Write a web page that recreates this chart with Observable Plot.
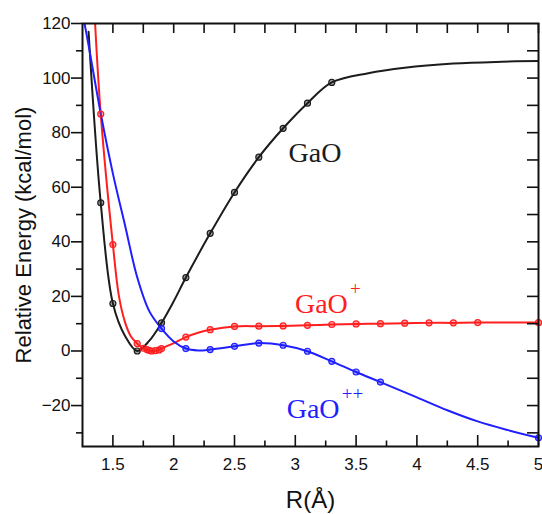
<!DOCTYPE html>
<html><head><meta charset="utf-8">
<script src="https://cdn.jsdelivr.net/npm/d3@7"></script>
<script src="https://cdn.jsdelivr.net/npm/@observablehq/plot@0.6"></script>
<style>body{margin:0;background:#fff}</style>
</head><body><div id="chart"></div>
<script>
// GaO (neutral)
const gaoX = [1.3, 1.4, 1.5, 1.6, 1.7, 1.8, 1.9, 2.0, 2.1, 2.3, 2.5, 2.7, 2.9, 3.1, 3.3, 3.6, 3.9, 4.3, 4.7, 5.0];
const gaoY = [117, 54.3, 17.4, 5.5, 0, 3.8, 10.3, 18.2, 26.9, 43.1, 58.1, 71, 81.6, 90.8, 98.4, 101.8, 103.8, 105.3, 106, 106.3];
const gaoMarks = [1.4, 1.5, 1.7, 1.9, 2.1, 2.3, 2.5, 2.7, 2.9, 3.1, 3.3];
// GaO+
const gaoPX = [1.35, 1.4, 1.5, 1.55, 1.6, 1.65, 1.7, 1.75, 1.78, 1.8, 1.82, 1.85, 1.88, 1.9, 2.0, 2.1, 2.2, 2.3, 2.5, 2.7, 2.9, 3.1, 3.3, 3.5, 3.7, 3.9, 4.1, 4.3, 4.5, 5.0];
const gaoPY = [123, 86.8, 39, 20, 10.5, 5.2, 2.7, 1.0, 0.5, 0.15, 0, 0.1, 0.4, 0.9, 2.9, 5.1, 6.7, 7.8, 9.0, 9.1, 9.2, 9.4, 9.7, 9.9, 10.0, 10.2, 10.3, 10.3, 10.4, 10.4];
const gaoPMarks = [1.4, 1.5, 1.7, 1.75, 1.78, 1.8, 1.82, 1.85, 1.88, 1.9, 2.1, 2.3, 2.5, 2.7, 2.9, 3.1, 3.3, 3.5, 3.7, 3.9, 4.1, 4.3, 4.5, 5.0];
// GaO++
const gaoPPX = [1.25, 1.3, 1.4, 1.5, 1.6, 1.7, 1.8, 1.9, 2.0, 2.1, 2.2, 2.3, 2.5, 2.7, 2.9, 3.1, 3.3, 3.5, 3.7, 4.0, 4.25, 4.5, 4.75, 5.0];
const gaoPPY = [124, 112, 87, 65, 46, 27, 14.5, 8.2, 3.5, 0.9, 0.2, 0.5, 1.7, 2.9, 2.1, -0.1, -3.8, -7.7, -11.4, -17, -21.7, -25.8, -29, -31.8];
const gaoPPMarks = [1.9, 2.1, 2.3, 2.5, 2.7, 2.9, 3.1, 3.3, 3.5, 3.7, 5.0];

const seriesNames = ["GaO", "GaO+", "GaO++"];
const seriesColors = ["#1c1c1c", "#ff1f1f", "#1f1fff"];

// labels
const labelText = ["GaO", "GaO", "GaO"];
const labelSup = ["", "+", "++"];
const labelX = [2.945, 2.997, 2.929];
const labelY = [72.6, 17.1, -21.4];

// axes ticks
const xMajor = [1.5, 2, 2.5, 3, 3.5, 4, 4.5, 5];
const xMinor = [1.75, 2.25, 2.75, 3.25, 3.75, 4.25, 4.75];
const xTickLabels = ["1.5", "2", "2.5", "3", "3.5", "4", "4.5", "5"];
const yMajor = [-20, 0, 20, 40, 60, 80, 100, 120];
const yMinor = [-30, -10, 10, 30, 50, 70, 90, 110];
const yAll = [-30, -20, -10, 0, 10, 20, 30, 40, 50, 60, 70, 80, 90, 100, 110];

const W = 542, H = 514, mL = 82, mR = 4, mT = 23, mB = 68;
const innerH = H - mT - mB, innerW = W - mL - mR;

const raw = [[gaoX, gaoY, gaoMarks], [gaoPX, gaoPY, gaoPMarks], [gaoPPX, gaoPPY, gaoPPMarks]];
const lineData = raw.flatMap(([xs, ys], k) => xs.map((x, i) => ({series: seriesNames[k], x, y: ys[i]})));
const markData = raw.flatMap(([xs, ys, ms], k) => ms.map(m => ({series: seriesNames[k], x: m, y: ys[xs.indexOf(m)]})));
const labels = labelText.map((t, i) => ({series: seriesNames[i], t, sup: labelSup[i], x: labelX[i], y: labelY[i]}));

const chart = Plot.plot({
  width: W, height: H,
  marginLeft: mL, marginRight: mR, marginTop: mT, marginBottom: mB,
  style: {fontFamily: "'Liberation Sans', Arial, sans-serif", background: "#fff", color: "#111"},
  x: {domain: [1.25, 5]},
  y: {domain: [-35, 120]},
  color: {domain: seriesNames, range: seriesColors},
  marks: [
    Plot.line(lineData, {x: "x", y: "y", z: "series", stroke: "series", strokeWidth: 2, curve: "catmull-rom", clip: true}),
    Plot.dot(markData, {x: "x", y: "y", stroke: "series", fill: "series", fillOpacity: 0.4, r: 3, strokeWidth: 1.2}),
    // bottom axis labels
    Plot.axisX({ticks: xMajor, tickFormat: (d) => xTickLabels[xMajor.indexOf(d)], tickSize: 0, tickPadding: 11, fontSize: 17, label: null}),
    // bottom ticks inward
    Plot.ruleX(xMajor, {x: d => d, insetTop: innerH - 11, stroke: "#111", strokeWidth: 1.6}),
    Plot.ruleX(xMinor, {x: d => d, insetTop: innerH - 5.5, stroke: "#111", strokeWidth: 1.6}),
    // top ticks inward
    Plot.ruleX(xMajor.concat(xMinor), {x: d => d, insetBottom: innerH - 10, stroke: "#111", strokeWidth: 1.6}),
    // left axis, outward ticks
    Plot.axisY({ticks: yMajor, tickSize: 11, tickPadding: 1, fontSize: 17, strokeWidth: 1.6, label: null}),
    Plot.axisY({ticks: yMinor, tickSize: 6, tickFormat: () => "", strokeWidth: 1.6, label: null}),
    // right ticks inward
    Plot.ruleY(yAll, {y: d => d, insetLeft: innerW - 11, stroke: "#111", strokeWidth: 1.6}),
    Plot.frame({stroke: "#111", strokeWidth: 2}),
    // axis titles
    Plot.text(["Relative Energy (kcal/mol)"], {frameAnchor: "left", textAnchor: "middle", lineAnchor: "middle", dx: -59, rotate: -90, fontSize: 22, fill: "#111"}),
    Plot.text(["R(Å)"], {frameAnchor: "bottom", textAnchor: "middle", lineAnchor: "middle", dy: 54, fontSize: 24, fill: "#111"}),
    // series labels
    Plot.text(labels, {x: "x", y: "y", text: "t", fill: "series", textAnchor: "start", fontSize: 28, fontFamily: "'Liberation Serif', 'Times New Roman', serif"}),
    Plot.text(labels, {x: "x", y: "y", text: "sup", fill: "series", textAnchor: "start", dx: 55, dy: -15, fontSize: 19, fontFamily: "'Liberation Serif', 'Times New Roman', serif"})
  ]
});
document.getElementById("chart").appendChild(chart);
</script>
</body></html>
